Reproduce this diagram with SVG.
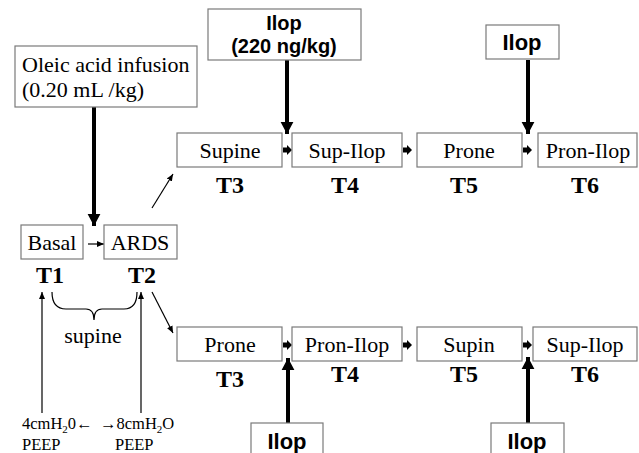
<svg xmlns="http://www.w3.org/2000/svg" width="639" height="453" viewBox="0 0 639 453">
<style>
.box{fill:#fff;stroke:#7a7a7a;stroke-width:1.2}
.t{font-family:'Liberation Serif','Tinos','Times New Roman','DejaVu Serif',serif;font-size:22px;fill:#000;text-anchor:middle}
.tl{font-family:'Liberation Serif','Tinos','Times New Roman','DejaVu Serif',serif;font-size:22px;fill:#000}
.T{font-family:'Liberation Serif','Tinos','Times New Roman','DejaVu Serif',serif;font-size:24px;font-weight:bold;fill:#000;text-anchor:middle}
.b{font-family:'Liberation Sans',Arimo,Arial,sans-serif;font-size:22px;font-weight:bold;fill:#000;text-anchor:middle}
.b2{font-family:'Liberation Sans',Arimo,Arial,sans-serif;font-size:20px;font-weight:bold;fill:#000;text-anchor:middle}
.s{font-family:'Liberation Serif','Tinos','Times New Roman','DejaVu Serif',serif;font-size:16.5px;fill:#000}
.thick{stroke:#000;stroke-width:4;fill:none}
.thin{stroke:#000;stroke-width:1.2;fill:none}
</style>
<defs>
<marker id="big" markerWidth="4" markerHeight="4" refX="3" refY="2" orient="auto" markerUnits="strokeWidth"><path d="M0,0.4 L3,2 L0,3.6 z" fill="#000"/></marker>
<marker id="sm" markerWidth="8" markerHeight="8" refX="7" refY="4" orient="auto" markerUnits="userSpaceOnUse"><path d="M0,1 L7,4 L0,7 z" fill="#000"/></marker>
</defs>

<g id="connectors">
<line class="thick" x1="94" y1="107" x2="94" y2="226" marker-end="url(#big)"/>
<line class="thick" x1="287" y1="60" x2="287" y2="134" marker-end="url(#big)"/>
<line class="thick" x1="528" y1="60" x2="528" y2="134" marker-end="url(#big)"/>
<line class="thick" x1="288" y1="423" x2="288" y2="358" marker-end="url(#big)"/>
<line class="thick" x1="528" y1="423" x2="528" y2="357" marker-end="url(#big)"/>
<line class="thin" x1="88" y1="244" x2="104" y2="244" marker-end="url(#sm)"/>
<line class="thin" x1="152" y1="208" x2="173" y2="174" marker-end="url(#sm)"/>
<line class="thin" x1="152" y1="292" x2="173" y2="333" marker-end="url(#sm)"/>
<line class="thin" x1="42" y1="413" x2="42" y2="292" marker-end="url(#sm)"/>
<line class="thin" x1="141" y1="413" x2="141" y2="292" marker-end="url(#sm)"/>
<g stroke="#000" stroke-width="5">
<line x1="283" y1="150" x2="288" y2="150"/><line x1="403" y1="150" x2="408" y2="150"/><line x1="523" y1="150" x2="528" y2="150"/>
<line x1="283" y1="345" x2="288" y2="345"/><line x1="403" y1="345" x2="408" y2="345"/><line x1="523" y1="345" x2="528" y2="345"/>
</g>
<g fill="#000">
<path d="M287,145 L292,150 L287,155 z"/><path d="M407,145 L412,150 L407,155 z"/><path d="M527,145 L532,150 L527,155 z"/>
<path d="M287,340 L292,345 L287,350 z"/><path d="M407,340 L412,345 L407,350 z"/><path d="M527,340 L532,345 L527,350 z"/>
</g>
<path class="thin" d="M52,292 Q52,309 66,309 L86,309 Q94,309 94,320 Q94,309 102,309 L124,309 Q137,309 137,292"/>
</g>

<g id="oleic"><rect class="box" x="15" y="46" width="182" height="61"/>
<text class="tl" x="22" y="72">Oleic acid infusion</text><text class="tl" x="22" y="97">(0.20 mL /kg)</text></g>
<g id="ilop-top1"><rect class="box" x="208" y="9" width="153" height="51"/>
<text class="b2" x="284" y="30">Ilop</text><text class="b2" x="284" y="53">(220 ng/kg)</text></g>
<g id="ilop-top2"><rect class="box" x="486" y="25" width="73" height="34"/><text class="b" x="522" y="50">Ilop</text></g>
<g id="ilop-bot1"><rect class="box" x="251" y="423" width="72" height="40"/><text class="b" x="287" y="449">Ilop</text></g>
<g id="ilop-bot2"><rect class="box" x="491" y="423" width="73" height="40"/><text class="b" x="527" y="449">Ilop</text></g>

<g id="basal"><rect class="box" x="21" y="225" width="62" height="34"/><text class="t" x="52" y="250">Basal</text><text class="T" x="50" y="283">T1</text></g>
<g id="ards"><rect class="box" x="104" y="225" width="73" height="34"/><text class="t" x="140" y="250">ARDS</text><text class="T" x="142" y="283">T2</text></g>

<g id="top-supine"><rect class="box" x="177" y="133" width="105" height="34"/><text class="t" x="230" y="158">Supine</text><text class="T" x="230" y="193">T3</text></g>
<g id="top-supilop"><rect class="box" x="292" y="133" width="110" height="34"/><text class="t" x="347" y="158">Sup-Ilop</text><text class="T" x="345" y="193">T4</text></g>
<g id="top-prone"><rect class="box" x="417" y="133" width="105" height="34"/><text class="t" x="469" y="158">Prone</text><text class="T" x="464" y="193">T5</text></g>
<g id="top-pronilop"><rect class="box" x="538" y="133" width="99" height="34"/><text class="t" x="588" y="158">Pron-Ilop</text><text class="T" x="585" y="193">T6</text></g>

<g id="bot-prone"><rect class="box" x="177" y="327" width="105" height="34"/><text class="t" x="230" y="352">Prone</text><text class="T" x="230" y="387">T3</text></g>
<g id="bot-pronilop"><rect class="box" x="292" y="327" width="110" height="34"/><text class="t" x="347" y="352">Pron-Ilop</text><text class="T" x="345" y="382">T4</text></g>
<g id="bot-supin"><rect class="box" x="417" y="327" width="105" height="34"/><text class="t" x="469" y="352">Supin</text><text class="T" x="464" y="382">T5</text></g>
<g id="bot-supilop"><rect class="box" x="533" y="327" width="104" height="34"/><text class="t" x="585" y="352">Sup-Ilop</text><text class="T" x="585" y="382">T6</text></g>

<g id="labels">
<text class="t" x="93" y="343">supine</text>
<text class="s" x="22" y="429">4cmH<tspan font-size="11" dy="4">2</tspan><tspan dy="-4">0←</tspan></text>
<text class="s" x="100" y="429">→8cmH<tspan font-size="11" dy="4">2</tspan><tspan dy="-4">O</tspan></text>
<text class="s" x="22" y="450">PEEP</text>
<text class="s" x="115" y="450">PEEP</text>
</g>
</svg>
